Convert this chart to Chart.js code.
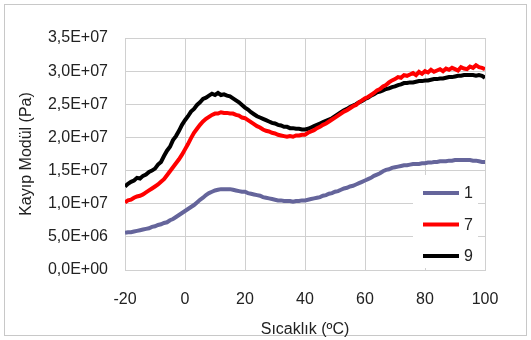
<!DOCTYPE html>
<html>
<head>
<meta charset="utf-8">
<script src="https://cdn.jsdelivr.net/npm/chart.js@4/dist/chart.umd.min.js"></script>
<style>
    body { margin: 0; background: #fff; }
    #wrap { width: 531px; height: 340px; }
</style>
</head>
<body>
<div id="wrap"><canvas id="kChart" width="531" height="340"></canvas></div>
<script>
// sicaklik (ºC), -20 .. 100, 1 derece arayla
var temps = []
for (var t = -20; t <= 100; t++) temps.push(t)

// kayip modul, x1e6 Pa
var s1 = [
    5.6, 5.7, 5.7, 5.8, 5.9, 6.0, 6.1, 6.2, 6.3, 6.5,
    6.6, 6.8, 6.9, 7.1, 7.2, 7.5, 7.7, 8.0, 8.3, 8.6,
    8.9, 9.2, 9.5, 9.8, 10.2, 10.6, 10.9, 11.3, 11.6, 11.8,
    12.0, 12.1, 12.2, 12.2, 12.2, 12.2, 12.1, 12.0, 11.9, 11.8,
    11.8, 11.6, 11.5, 11.4, 11.3, 11.2, 11.0, 10.9, 10.8, 10.7,
    10.6, 10.5, 10.5, 10.4, 10.4, 10.4, 10.3, 10.4, 10.4, 10.5,
    10.5, 10.6, 10.7, 10.8, 10.9, 11.0, 11.2, 11.3, 11.5, 11.6,
    11.8, 11.9, 12.1, 12.3, 12.4, 12.6, 12.7, 12.9, 13.1, 13.3,
    13.5, 13.7, 13.9, 14.2, 14.4, 14.6, 14.9, 15.1, 15.2, 15.4,
    15.5, 15.6, 15.7, 15.8, 15.8, 15.9, 16.0, 16.0, 16.0, 16.1,
    16.1, 16.2, 16.2, 16.3, 16.3, 16.4, 16.4, 16.4, 16.5, 16.5,
    16.6, 16.6, 16.6, 16.6, 16.6, 16.6, 16.5, 16.5, 16.4, 16.3,
    16.3
]
var s7 = [
    10.2, 10.5, 10.6, 10.9, 11.1, 11.2, 11.4, 11.7, 12.0, 12.3,
    12.6, 12.9, 13.3, 13.7, 14.3, 14.9, 15.5, 16.1, 16.7, 17.4,
    18.2, 19.0, 19.9, 20.7, 21.3, 21.9, 22.4, 22.8, 23.1, 23.4,
    23.6, 23.6, 23.8, 23.7, 23.7, 23.6, 23.6, 23.4, 23.3, 23.0,
    22.9, 22.6, 22.3, 22.0, 21.7, 21.5, 21.2, 21.0, 20.9, 20.7,
    20.6, 20.4, 20.3, 20.2, 20.1, 20.2, 20.1, 20.3, 20.3, 20.4,
    20.4, 20.7, 20.9, 21.1, 21.4, 21.6, 21.9, 22.1, 22.4, 22.7,
    23.0, 23.3, 23.6, 23.9, 24.1, 24.4, 24.7, 24.9, 25.3, 25.6,
    25.9, 26.1, 26.4, 26.7, 27.1, 27.3, 27.7, 27.9, 28.3, 28.6,
    28.8, 29.1, 29.0, 29.4, 29.3, 29.5, 29.7, 29.4, 29.9, 29.6,
    30.0, 29.8, 30.2, 29.9, 30.1, 30.3, 30.0, 30.4, 30.2, 30.5,
    30.3, 30.1, 30.6, 30.4, 30.3, 30.7, 30.5, 30.9, 30.6, 30.5,
    30.3
]
var s9 = [
    12.6, 13.0, 13.3, 13.5, 13.9, 13.8, 14.2, 14.4, 14.8, 15.0,
    15.3, 15.9, 16.3, 17.2, 18.0, 18.6, 19.6, 20.2, 21.0, 21.9,
    22.6, 23.2, 23.9, 24.3, 24.9, 25.3, 25.8, 26.0, 26.3, 26.6,
    26.4, 26.7, 26.4, 26.5, 26.3, 26.2, 25.9, 25.6, 25.3, 24.9,
    24.5, 24.2, 23.8, 23.5, 23.2, 23.0, 22.8, 22.6, 22.4, 22.2,
    22.1, 21.9, 21.8, 21.6, 21.6, 21.4, 21.4, 21.3, 21.3, 21.2,
    21.2, 21.3, 21.5, 21.7, 21.9, 22.1, 22.3, 22.5, 22.7, 22.9,
    23.2, 23.5, 23.8, 24.1, 24.3, 24.6, 24.8, 25.0, 25.3, 25.5,
    25.8, 26.0, 26.3, 26.5, 26.8, 26.9, 27.1, 27.3, 27.4, 27.6,
    27.7, 27.9, 28.0, 28.2, 28.2, 28.3, 28.3, 28.4, 28.5, 28.5,
    28.6, 28.6, 28.7, 28.8, 28.8, 28.9, 28.9, 29.0, 29.1, 29.1,
    29.2, 29.3, 29.3, 29.4, 29.4, 29.4, 29.4, 29.3, 29.4, 29.3,
    29.0
]

var seriesNames = ['1', '7', '9']
var seriesColors = ['#65659b', '#ff0000', '#000000']
var xTicks = [-20, 0, 20, 40, 60, 80, 100]
var yMax = 3.5e7
var yStep = 5e6

var fontFam = '"Liberation Sans", Arial, sans-serif'
var gridCol = '#d0d0d0'
var textCol = '#222222'

var toPts = (arr) => arr.map((v, i) => ({x: temps[i], y: v * 1e6}))

// 3,5E+07 bicimi
var sciFmt = (v) => {
    if (v === 0) return '0,0E+00'
    var e = Math.floor(Math.log10(Math.abs(v)) + 1e-9)
    var m = v / Math.pow(10, e)
    var es = (e < 0 ? '-' : '+') + String(Math.abs(e)).padStart(2, '0')
    return m.toFixed(1).replace('.', ',') + 'E' + es
}

// dis cerceve
var frame = {
    id: 'frame',
    beforeDraw: (chart) => {
        var c = chart.ctx
        c.save()
        c.fillStyle = '#fff'
        c.fillRect(0, 0, chart.width, chart.height)
        c.strokeStyle = '#c8c8c8'
        c.lineWidth = 1
        c.strokeRect(4.5, 4.5, 522, 331)
        c.restore()
    }
}

// grafik icindeki lejant
var inLegend = {
    id: 'inLegend',
    afterDraw: (chart) => {
        var c = chart.ctx
        var a = chart.chartArea
        var bx = a.right - 72, by = a.bottom - 95
        c.save()
        c.fillStyle = '#fff'
        c.fillRect(bx, by, 65, 93)
        c.font = '16px ' + fontFam
        c.textBaseline = 'middle'
        c.fillStyle = textCol
        chart.data.datasets.forEach((ds, i) => {
            var yy = by + 18 + i * 31.5
            c.strokeStyle = ds.borderColor
            c.lineWidth = 4
            c.beginPath()
            c.moveTo(bx + 10, yy)
            c.lineTo(bx + 46, yy)
            c.stroke()
            c.fillText(ds.label, bx + 51, yy + 1)
        })
        c.restore()
    }
}

var ctx = document.getElementById('kChart')
var kChart = new Chart(ctx, {
    type: 'line',
    data: {
        datasets: [s1, s7, s9].map((s, i) => ({
            label: seriesNames[i],
            data: toPts(s),
            borderColor: seriesColors[i],
            backgroundColor: seriesColors[i],
            borderWidth: 4,
            pointRadius: 0,
            tension: 0,
            fill: false
        }))
    },
    options: {
        responsive: false,
        animation: false,
        layout: {padding: {left: 0, right: 46, top: 38, bottom: 0}},
        plugins: {
            legend: {display: false},
            tooltip: {enabled: false}
        },
        scales: {
            x: {
                type: 'linear',
                min: -20,
                max: 100,
                afterBuildTicks: (s) => { s.ticks = xTicks.map(v => ({value: v})) },
                afterFit: (s) => { s.height = 70 },
                grid: {color: gridCol, drawTicks: false},
                border: {color: gridCol},
                ticks: {padding: 20, color: textCol, font: {family: fontFam, size: 16}},
                title: {
                    display: true,
                    text: 'Sıcaklık (ºC)',
                    color: textCol,
                    font: {family: fontFam, size: 16},
                    padding: {top: 0, bottom: 1}
                }
            },
            y: {
                min: 0,
                max: yMax,
                afterFit: (s) => { s.width = 125 },
                grid: {color: gridCol, drawTicks: false},
                border: {color: gridCol},
                ticks: {
                    stepSize: yStep,
                    padding: 17,
                    color: textCol,
                    font: {family: fontFam, size: 16},
                    callback: (v) => sciFmt(v)
                },
                title: {
                    display: true,
                    text: 'Kayıp Modül (Pa)',
                    color: textCol,
                    font: {family: fontFam, size: 16},
                    padding: {top: 17, bottom: 0}
                }
            }
        }
    },
    plugins: [frame, inLegend]
})
</script>
</body>
</html>
